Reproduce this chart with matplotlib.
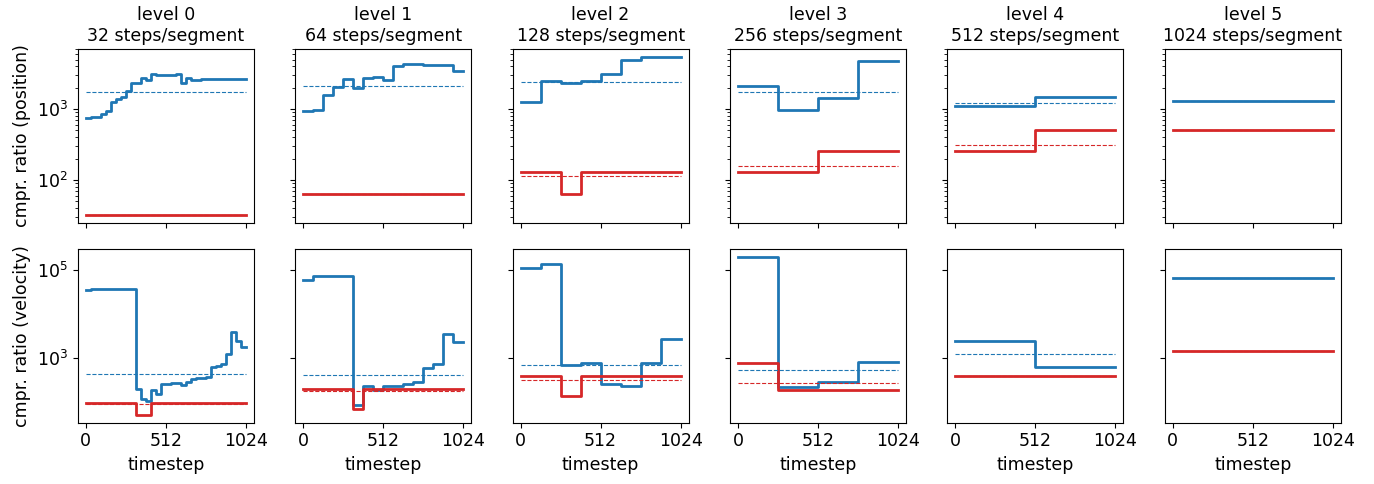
import numpy as np
import matplotlib.pyplot as plt
from matplotlib.ticker import NullLocator

# steps per segment for each level
steps = [32, 64, 128, 256, 512, 1024]

# compression ratio per segment, position (top row)
pos_blue = [
    [746, 764, 764, 851, 948, 1256, 1369, 1459, 1811, 2349, 2349, 2791, 2560, 3148, 3048, 3048,
     3048, 3048, 3180, 2349, 2791, 2588, 2588, 2648, 2648, 2648, 2648, 2648, 2648, 2648, 2648, 2648],
    [927, 958, 1557, 2065, 2648, 1954, 2761, 2884, 2535, 4036, 4305, 4305, 4210, 4210, 4210, 3428],
    [1241, 2506, 2300, 2506, 3148, 4897, 5458, 5458],
    [2133, 968, 1429, 4842],
    [1114, 1492],
    [1296],
]
pos_red = [
    [32] * 32,
    [64] * 16,
    [128, 128, 64, 128, 128, 128, 128, 128],
    [128, 128, 256, 256],
    [256, 512],
    [512],
]
pos_blue_mean = [1754, 2110, 2399, 1735, 1228, 1296]
pos_red_mean = [32, 64, 115, 159, 308, 512]

# compression ratio per segment, velocity (bottom row)
vel_blue = [
    [34830, 37400, 37400, 37400, 37400, 37400, 37400, 37400, 37400, 37400, 188, 113, 100, 179, 145, 245,
     254, 263, 263, 241, 282, 324, 342, 348, 355, 601, 644, 716, 1213, 3802, 2410, 1754],
    [59000, 74200, 74200, 74200, 74200, 85, 229, 179, 224, 224, 245, 272, 570, 729, 3420, 2244],
    [115000, 139700, 667, 755, 245, 229, 742, 2630],
    [205600, 213, 277, 782],
    [2366, 611],
    [67900],
]
vel_red = [
    [93] * 10 + [49.5] * 3 + [93] * 19,
    [191] * 5 + [65.6] + [191] * 10,
    [380, 380, 130, 380, 380, 380, 380, 380],
    [742, 185, 185, 185],
    [374, 374],
    [1446],
]
vel_blue_mean = [415, 401, 691, 513, 1192, 67900]
vel_red_mean = [88, 172, 308, 267, 374, 1446]

T = 1024
blue = '#1f77b4'
red = '#d62728'

plt.rcParams['font.size'] = 12.5
plt.rcParams['axes.titlesize'] = 12.5

fig, axes = plt.subplots(2, 6, figsize=(13.74, 4.84), sharex=True, sharey='row')

rows = [
    (pos_blue, pos_red, pos_blue_mean, pos_red_mean, 'cmpr. ratio (position)'),
    (vel_blue, vel_red, vel_blue_mean, vel_red_mean, 'cmpr. ratio (velocity)'),
]

for r, (b, rd, bm, rm, lab) in enumerate(rows):
    for i in range(6):
        ax = axes[r, i]
        n = len(b[i])
        edges = np.linspace(0, T, n + 1)
        ax.step(edges, list(b[i]) + [b[i][-1]], where='post', color=blue, lw=2.0)
        ax.step(edges, list(rd[i]) + [rd[i][-1]], where='post', color=red, lw=2.0)
        ax.plot([0, T], [bm[i], bm[i]], '--', color=blue, lw=0.8)
        ax.plot([0, T], [rm[i], rm[i]], '--', color=red, lw=0.8)
        ax.set_yscale('log')
        if r == 0:
            ax.set_title(f'level {i}\n{steps[i]} steps/segment')
        else:
            ax.set_xlabel('timestep')
    axes[r, 0].set_ylabel(lab)

axes[1, 0].set_xticks([0, 512, 1024])
axes[1, 0].set_yticks([1e3, 1e5])
axes[1, 0].yaxis.set_minor_locator(NullLocator())

plt.subplots_adjust(left=0.0566, right=0.9758, top=0.8988, bottom=0.1267,
                    wspace=0.235, hspace=0.149)
plt.savefig('out.png', dpi=100)
